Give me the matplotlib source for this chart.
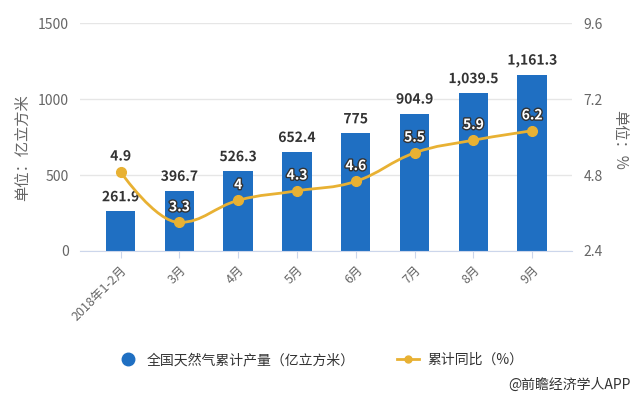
import matplotlib
matplotlib.use("Agg")
import matplotlib.pyplot as plt
import matplotlib.patheffects as pe
from matplotlib.path import Path
from matplotlib.patches import PathPatch
from matplotlib.lines import Line2D
import numpy as np

plt.rcParams['font.family'] = ['Noto Sans CJK SC', 'DejaVu Sans']

categories = ['2018年1-2月', '3月', '4月', '5月', '6月', '7月', '8月', '9月']
production = [261.9, 396.7, 526.3, 652.4, 775, 904.9, 1039.5, 1161.3]
growth = [4.9, 3.3, 4.0, 4.3, 4.6, 5.5, 5.9, 6.2]
left_ticks = [0, 500, 1000, 1500]
right_ticks = [2.4, 4.8, 7.2, 9.6]

BAR = '#1f6fc2'
LINE = '#e8b133'
TXT = '#333333'
AX = '#666666'


def fmt(v):
    s = f"{v:,.1f}"
    return s[:-2] if s.endswith('.0') else s


def spline_path(xs, ys, smoothing=1.5):
    n = len(xs)
    denom = smoothing + 1
    rc = [None] * n
    lc = [None] * n
    for i in range(n):
        x, y = xs[i], ys[i]
        if 0 < i < n - 1:
            lx, ly = xs[i - 1], ys[i - 1]
            nx, ny = xs[i + 1], ys[i + 1]
            lcx = (smoothing * x + lx) / denom
            lcy = (smoothing * y + ly) / denom
            rcx = (smoothing * x + nx) / denom
            rcy = (smoothing * y + ny) / denom
            if rcx != lcx:
                corr = (rcy - lcy) * (rcx - x) / (rcx - lcx) + y - rcy
                lcy += corr
                rcy += corr
                if lcy > ly and lcy > y:
                    lcy = max(ly, y); rcy = 2 * y - lcy
                elif lcy < ly and lcy < y:
                    lcy = min(ly, y); rcy = 2 * y - lcy
                if rcy > ny and rcy > y:
                    rcy = max(ny, y); lcy = 2 * y - rcy
                elif rcy < ny and rcy < y:
                    rcy = min(ny, y); lcy = 2 * y - rcy
            lc[i] = (lcx, lcy)
            rc[i] = (rcx, rcy)
        else:
            lc[i] = (x, y)
            rc[i] = (x, y)
    verts = [(xs[0], ys[0])]
    codes = [Path.MOVETO]
    for i in range(1, n):
        verts += [rc[i - 1], lc[i], (xs[i], ys[i])]
        codes += [Path.CURVE4] * 3
    return Path(verts, codes)


fig = plt.figure(figsize=(6.4, 3.99), dpi=100)
ax = fig.add_axes([0.125, 0.371, 0.769, 0.571])
ax2 = ax.twinx()

x = np.arange(len(categories))
ax.bar(x, production, width=0.5, color=BAR, zorder=2)
ax.set_xlim(-0.69, 7.68)
ax.set_ylim(0, 1500)
ax.set_yticks(left_ticks)
ax.grid(axis='y', color='#e6e6e6', linewidth=1, zorder=0)
ax.set_axisbelow(True)
for s in ['top', 'left', 'right']:
    ax.spines[s].set_visible(False)
ax.spines['bottom'].set_color('#ccd6eb')
ax.tick_params(axis='y', length=0, labelsize=10, labelcolor=AX, pad=8)
ax.set_xticks(x)
ax.set_xticklabels(categories, rotation=45, ha='right', rotation_mode='anchor',
                   fontsize=9, color=AX)
ax.tick_params(axis='x', length=5, color='#ccd6eb', pad=4)

for xi, v in zip(x, production):
    ax.annotate(fmt(v), (xi, v), xytext=(0, 5), textcoords='offset points',
                ha='center', va='bottom', fontsize=10, fontweight='bold', color=TXT,
                path_effects=[pe.withStroke(linewidth=2, foreground='white')], zorder=5)

ax2.set_ylim(2.4, 9.6)
ax2.set_yticks(right_ticks)
ax2.set_yticklabels([f"{t:.1f}" for t in right_ticks])
for s in ['top', 'left', 'right', 'bottom']:
    ax2.spines[s].set_visible(False)
ax2.tick_params(axis='y', length=0, labelsize=10, labelcolor=AX, pad=8)

path = spline_path(list(x.astype(float)), growth)
ax2.add_patch(PathPatch(path, facecolor='none', edgecolor=LINE, linewidth=2, zorder=3))
ax2.plot(x, growth, linestyle='none', marker='o', markersize=7, color=LINE, zorder=4)

for xi, g, v in zip(x, growth, production):
    ly = (g - 2.4) / 7.2 * 1500 + 60
    inside = ly < v
    if inside:
        col, stroke = 'white', '#333333'
    else:
        col, stroke = TXT, 'white'
    ax2.annotate(fmt(g), (xi, g), xytext=(0, 6), textcoords='offset points',
                 ha='center', va='bottom', fontsize=10, fontweight='bold', color=col,
                 path_effects=[pe.withStroke(linewidth=2, foreground=stroke)], zorder=6)

fig.text(0.035, 0.63, '单位：亿立方米', rotation=90, ha='center', va='center',
         fontsize=11, color=AX)
fig.text(0.968, 0.65, '单位：%', rotation=270, ha='center', va='center',
         fontsize=11, color=AX)

handles = [
    Line2D([], [], linestyle='none', marker='o', markersize=9, color=BAR),
    Line2D([], [], color=LINE, linewidth=2, marker='o', markersize=5),
]
fig.legend(handles, ['全国天然气累计产量（亿立方米）', '累计同比（%）'],
           loc='center', bbox_to_anchor=(0.5, 0.098), ncol=2, frameon=False,
           fontsize=10, labelcolor=TXT, handlelength=1.6, columnspacing=3.0,
           handletextpad=0.6)
fig.text(0.985, 0.035, '@前瞻经济学人APP', ha='right', va='center', fontsize=10, color=TXT)

fig.savefig('out.png', dpi=100)
